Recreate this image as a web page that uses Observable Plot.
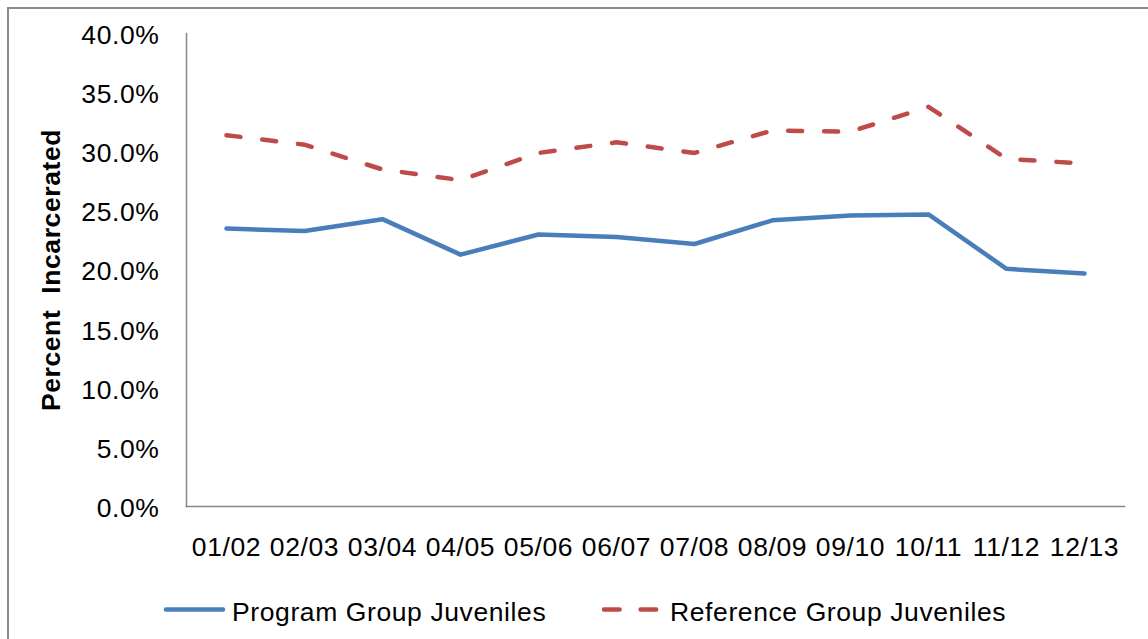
<!DOCTYPE html>
<html>
<head>
<meta charset="utf-8">
<script src="https://cdn.jsdelivr.net/npm/d3@7"></script>
<script src="https://cdn.jsdelivr.net/npm/@observablehq/plot@0.6"></script>
<style>
  html, body { margin: 0; padding: 0; background: #fff; overflow: hidden; }
  body { width: 1148px; height: 639px; position: relative; font-family: "Liberation Sans", Arial, sans-serif; }
  #frame { position: absolute; left: 7px; top: 7px; width: 1300px; height: 800px;
           border-left: 2px solid #8c8c8c; border-top: 2px solid #8c8c8c; box-sizing: border-box; }
  #chart { position: absolute; left: 0; top: 0; }
  #chart svg text { white-space: pre; letter-spacing: 0.6px; }
  #legend { position: absolute; left: 0; top: 585px; width: 1148px; height: 54px; }
  #legend svg { position: absolute; top: 0; }
  #legend span { position: absolute; top: 0; line-height: 54px; font-size: 26.5px; letter-spacing: 0.6px; color: #000; white-space: pre; }
</style>
</head>
<body>
<div id="frame"></div>
<div id="chart"></div>
<div id="legend"></div>
<script>
const years = ["01/02","02/03","03/04","04/05","05/06","06/07","07/08","08/09","09/10","10/11","11/12","12/13"];
const programValues = [23.5,23.3,24.3,21.3,23.0,22.8,22.2,24.2,24.6,24.7,20.1,19.7];
const referenceValues = [31.4,30.6,28.5,27.6,29.9,30.8,29.9,31.8,31.7,33.8,29.4,29.0];
const yTicks = [0,5,10,15,20,25,30,35,40];
const seriesNames = ["Program Group Juveniles","Reference Group Juveniles"];
const seriesColors = ["#4A7EBB","#BE4B48"];
const yTitle = "Percent  Incarcerated";

const programData = years.map((y, i) => ({year: y, value: programValues[i]}));
const referenceData = years.map((y, i) => ({year: y, value: referenceValues[i]}));

const chart = Plot.plot({
  width: 1148,
  height: 585,
  marginTop: 33,
  marginBottom: 79,
  marginLeft: 186,
  marginRight: 24,
  style: {fontFamily: "'Liberation Sans', Arial, sans-serif", fontSize: "26.5px", color: "#000", background: "transparent", overflow: "visible"},
  x: {type: "point", domain: years, padding: 0.5, label: null},
  y: {domain: [0, 40], label: null},
  marks: [
    Plot.axisY({ticks: yTicks, tickSize: 0, tickPadding: 27, tickFormat: d => d.toFixed(1) + "%", label: null, dy: 2}),
    Plot.axisX({tickSize: 0, tickPadding: 31, label: null}),
    Plot.frame({anchor: "left", stroke: "#868686", strokeWidth: 1.5}),
    Plot.frame({anchor: "bottom", stroke: "#868686", strokeWidth: 1.5}),
    Plot.line(programData, {x: "year", y: "value", stroke: seriesColors[0], strokeWidth: 4.5, strokeLinejoin: "round", strokeLinecap: "round"}),
    Plot.line(referenceData, {x: "year", y: "value", stroke: seriesColors[1], strokeWidth: 4.5, strokeLinejoin: "round", strokeLinecap: "round", strokeDasharray: "14,22"}),
    Plot.text([yTitle], {frameAnchor: "left", textAnchor: "middle", lineAnchor: "middle", dx: -135, rotate: -90, fontWeight: "bold", fontSize: 26.5, fill: "#000"})
  ]
});
document.getElementById("chart").appendChild(chart);

// Legend (HTML below the SVG)
const legend = document.getElementById("legend");
const ns = "http://www.w3.org/2000/svg";
function addItem(swLeft, x1, x2, textLeft, color, dash, name) {
  const s = document.createElementNS(ns, "svg");
  s.setAttribute("width", x2 - swLeft + 10);
  s.setAttribute("height", 54);
  s.style.left = swLeft + "px";
  const l = document.createElementNS(ns, "line");
  l.setAttribute("x1", x1 - swLeft);
  l.setAttribute("x2", x2 - swLeft);
  l.setAttribute("y1", 24.5);
  l.setAttribute("y2", 24.5);
  l.setAttribute("stroke", color);
  l.setAttribute("stroke-width", 4.5);
  l.setAttribute("stroke-linecap", "round");
  if (dash) l.setAttribute("stroke-dasharray", dash);
  s.appendChild(l);
  legend.appendChild(s);
  const t = document.createElement("span");
  t.textContent = name;
  t.style.left = textLeft + "px";
  legend.appendChild(t);
}
addItem(156, 166, 223, 232, seriesColors[0], null, seriesNames[0]);
addItem(594, 604, 656.5, 670, seriesColors[1], "15.6,21", seriesNames[1]);
</script>
</body>
</html>
